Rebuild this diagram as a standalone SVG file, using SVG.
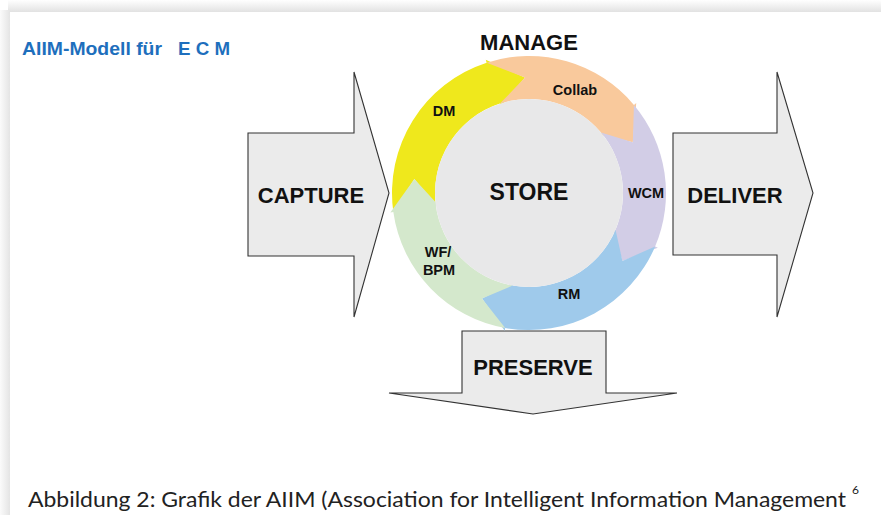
<svg xmlns="http://www.w3.org/2000/svg" width="881" height="515" viewBox="0 0 881 515">
<defs>
<linearGradient id="shTop" x1="0" y1="0" x2="0" y2="1"><stop offset="0" stop-color="#ffffff"/><stop offset="1" stop-color="#e2e2e2"/></linearGradient>
<linearGradient id="shLeft" x1="0" y1="0" x2="1" y2="0"><stop offset="0" stop-color="#fbfbfb"/><stop offset="1" stop-color="#e4e4e4"/></linearGradient>
<style>
.b{font-family:"Liberation Sans",Arial,sans-serif;font-weight:bold;fill:#111}
.arrow{fill:#ebebeb;stroke:#333;stroke-width:1.1}
.lbl{font-size:14.5px;text-anchor:middle}
.big{font-size:22px;text-anchor:middle}
.title{font-family:"Liberation Sans",Arial,sans-serif;font-weight:bold;font-size:18.5px;fill:#1e6fbd}
</style>
</defs>
<rect width="881" height="515" fill="#ffffff"/>
<rect x="8" y="0" width="873" height="12" fill="url(#shTop)"/>
<rect x="0" y="10" width="10" height="505" fill="url(#shLeft)"/>
<rect x="10" y="12" width="871" height="503" fill="#ffffff"/>

<text class="title" x="22" y="55" textLength="140" lengthAdjust="spacingAndGlyphs">AIIM-Modell für</text>
<text class="title" x="178" y="55" textLength="52" lengthAdjust="spacingAndGlyphs">E C M</text>

<g id="capture"><polygon class="arrow" points="248,133 354,133 354,72 389,193 354,317 354,256 248,256"/><text class="b big" x="311" y="203">CAPTURE</text></g>
<g id="deliver"><polygon class="arrow" points="673,133 777,133 777,72 813,193 777,317 777,255 673,255"/><text class="b big" x="735" y="203">DELIVER</text></g>
<g id="preserve"><polygon class="arrow" points="462,331 606,331 606,393 677,393 533,414 389,393 462,393"/><text class="b big" x="533" y="375">PRESERVE</text></g>

<g id="manage"><text class="b big" x="529" y="50">MANAGE</text></g>

<g id="dm"><path fill="#efe81c" d="M 393.33 212.07 A 137 137 0 0 1 486.66 62.70 L 485.74 59.85 L 524.97 77.57 L 500.88 106.45 L 499.95 103.60 A 94 94 0 0 0 435.91 206.08 L 414.36 178.92 Z"/><text class="b lbl" x="444" y="116">DM</text></g>
<g id="collab"><path fill="#f9c99c" d="M 486.66 62.70 A 137 137 0 0 1 633.95 104.94 L 636.25 103.01 L 632.81 142.37 L 598.71 134.51 L 601.01 132.58 A 94 94 0 0 0 499.95 103.60 L 524.97 77.57 Z"/><text class="b lbl" x="575" y="95">Collab</text></g>
<g id="wcm"><path fill="#d2cde6" d="M 633.95 104.94 A 137 137 0 0 1 655.11 246.53 L 657.87 247.70 L 622.44 260.89 L 612.77 228.56 L 615.53 229.73 A 94 94 0 0 0 601.01 132.58 L 632.81 142.37 Z"/><text class="b lbl" x="646" y="198">WCM</text></g>
<g id="rm"><path fill="#9fcaeb" d="M 655.11 246.53 A 137 137 0 0 1 505.21 327.92 L 504.69 330.87 L 482.02 298.52 L 513.20 282.62 L 512.68 285.57 A 94 94 0 0 0 615.53 229.73 L 622.44 260.89 Z"/><text class="b lbl" x="569" y="299">RM</text></g>
<g id="wfbpm"><path fill="#d4e8cc" d="M 505.21 327.92 A 137 137 0 0 1 393.33 212.07 L 390.36 212.48 L 414.36 178.92 L 438.89 205.66 L 435.91 206.08 A 94 94 0 0 0 512.68 285.57 L 482.02 298.52 Z"/><text class="b lbl" x="438" y="257">WF/</text><text class="b lbl" x="439" y="275">BPM</text></g>
<g id="store"><circle cx="529" cy="193" r="94" fill="#e8e8e9"/><text class="b" x="529" y="200" style="font-size:23px;text-anchor:middle">STORE</text></g>

<g id="connectors"></g>

<text x="28" y="507" textLength="818" lengthAdjust="spacingAndGlyphs" style="font-family:Lato,'Open Sans',sans-serif;font-size:21px;fill:#222">Abbildung 2: Grafik der AIIM (Association for Intelligent Information Management</text>
<text x="852" y="494" style="font-family:Lato,'Open Sans',sans-serif;font-size:12px;fill:#222">6</text>
</svg>
